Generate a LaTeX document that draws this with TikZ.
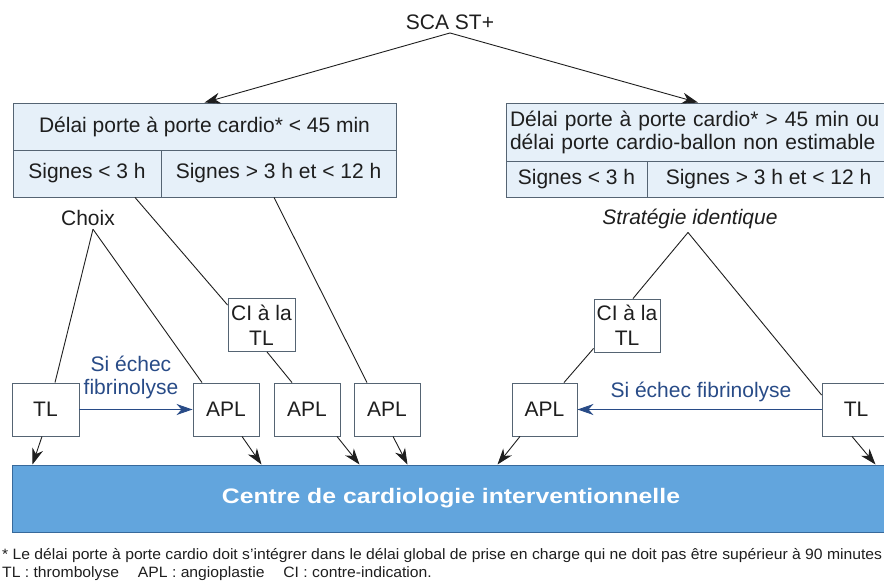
\documentclass[tikz,border=0pt]{standalone}
\usepackage{fontspec}
\usepackage{graphicx}
\setmainfont{Liberation Sans}
\usetikzlibrary{arrows.meta}
\definecolor{cellblue}{RGB}{230,240,249}
\definecolor{edgegray}{RGB}{85,100,115}
\definecolor{barblue}{RGB}{98,165,221}
\definecolor{barline}{RGB}{55,105,155}
\definecolor{echec}{RGB}{40,75,135}
\definecolor{ink}{RGB}{30,30,30}

\begin{document}
\begin{tikzpicture}[x=1pt, y=-1pt, >={Stealth[length=16pt,width=11pt,inset=5pt]},
  every node/.style={font=\fontsize{21}{25}\selectfont, text=ink},
  cell/.style={draw=edgegray, fill=cellblue, line width=0.9pt, inner sep=0pt},
  small/.style={draw=edgegray, fill=white, line width=0.9pt, inner sep=0pt, minimum height=53pt, align=center},
  link/.style={draw=ink, line width=0.9pt}]
\useasboundingbox (0,0) rectangle (884,583);
\node (sca) at (450,22) {SCA ST+};
\node[cell, minimum width=383pt, minimum height=47pt] (hd1) at (204.5,126.5) {Délai porte à porte cardio* < 45 min};
\node[cell, minimum width=148pt, minimum height=47pt] (s1a) at (87,173.5) {Signes < 3 h};
\node[cell, minimum width=235pt, minimum height=47pt] (s1b) at (278.5,173.5) {Signes > 3 h et < 12 h};
\node[cell, text width=376pt, inner xsep=4pt, minimum height=58pt, align=left, font=\fontsize{21}{23}\selectfont] (hd2) at (698,132) {Délai porte à porte cardio* > 45 min ou\\délai porte cardio-ballon non estimable};
\node[cell, minimum width=141pt, minimum height=36pt] (s2a) at (576.5,179) {Signes < 3 h};
\node[cell, minimum width=243pt, minimum height=36pt] (s2b) at (768.5,179) {Signes > 3 h et < 12 h};
\node (choix) at (88,218) {Choix};
\node[font=\fontsize{21}{25}\selectfont\itshape] (strat) at (690,219) {Stratégie identique};
\node[small, minimum width=67pt] (ciA) at (261.5,325) {CI à la\\TL};
\node[small, minimum width=66pt] (ciB) at (627,325.5) {CI à la\\TL};
\node[small, minimum width=67pt] (tlA) at (45.5,409.5) {TL};
\node[small, minimum width=66pt] (aplA) at (226,409.5) {APL};
\node[small, minimum width=66pt] (aplB) at (307,409.5) {APL};
\node[small, minimum width=66pt] (aplC) at (387,409.5) {APL};
\node[small, minimum width=65pt] (aplD) at (544.5,409.5) {APL};
\node[small, minimum width=68pt] (tlB) at (856,409.5) {TL};
\node[text=echec, align=center, font=\fontsize{21}{23}\selectfont] (echA) at (131,377) {Si échec\\fibrinolyse};
\node[text=echec] (echB) at (701,392) {Si échec fibrinolyse};
\node[draw=barline, line width=1pt, fill=barblue, minimum width=878pt, minimum height=67pt, inner sep=0pt, text=white] (bar) at (451,498.5) {\resizebox{458pt}{\height}{\bfseries Centre de cardiologie interventionnelle}};
\node[anchor=west, inner sep=0pt, font=\fontsize{15}{18}\selectfont] (note) at (2,565) {\resizebox{880pt}{\height}{\begin{tabular}{@{}l@{}}* Le délai porte à porte cardio doit s'intégrer dans le délai global de prise en charge qui ne doit pas être supérieur à 90 minutes\\TL : thrombolyse\hspace{1.2em}APL : angioplastie\hspace{1.2em}CI : contre-indication.\end{tabular}}};
\draw[link,->] (sca.south) -- (hd1.north);
\draw[link,->] (sca.south) -- (hd2.north);
\draw[link] ([xshift=48pt]s1a.south) -- ([yshift=20pt]ciA.west);
\draw[link] ([xshift=-4.5pt]s1b.south) -- ([xshift=-20pt]aplC.north);
\draw[link] ([xshift=5.5pt]ciA.south) -- ([xshift=-15pt]aplB.north);
\draw[link] ([xshift=5pt]choix.south) -- ([xshift=9.5pt]tlA.north);
\draw[link] ([xshift=5pt]choix.south) -- ([xshift=-24pt]aplA.north);
\draw[link] ([xshift=-2pt]strat.south) -- ([xshift=6pt]ciB.north);
\draw[link] ([xshift=-2pt]strat.south) -- ([yshift=14.5pt]tlB.west);
\draw[link] ([yshift=4pt]ciB.south west) -- ([xshift=19.5pt]aplD.north);
\draw[->, echec, line width=0.9pt] (tlA) -- (aplA);
\draw[->, echec, line width=0.9pt] (tlB) -- (aplD);
\draw[link,->] ([xshift=-3.5pt]tlA.south) -- ([xshift=21pt]bar.north west);
\draw[link,->] ([xshift=16pt]aplA.south) -- ([xshift=250pt]bar.north west);
\draw[link,->] ([xshift=30pt]aplB.south) -- ([xshift=348pt]bar.north west);
\draw[link,->] ([xshift=6pt]aplC.south) -- ([xshift=396pt]bar.north west);
\draw[link,->] ([xshift=-24.5pt]aplD.south) -- ([xshift=486pt]bar.north west);
\draw[link,->] ([xshift=-4pt]tlB.south) -- ([xshift=864pt]bar.north west);
\end{tikzpicture}
\end{document}
